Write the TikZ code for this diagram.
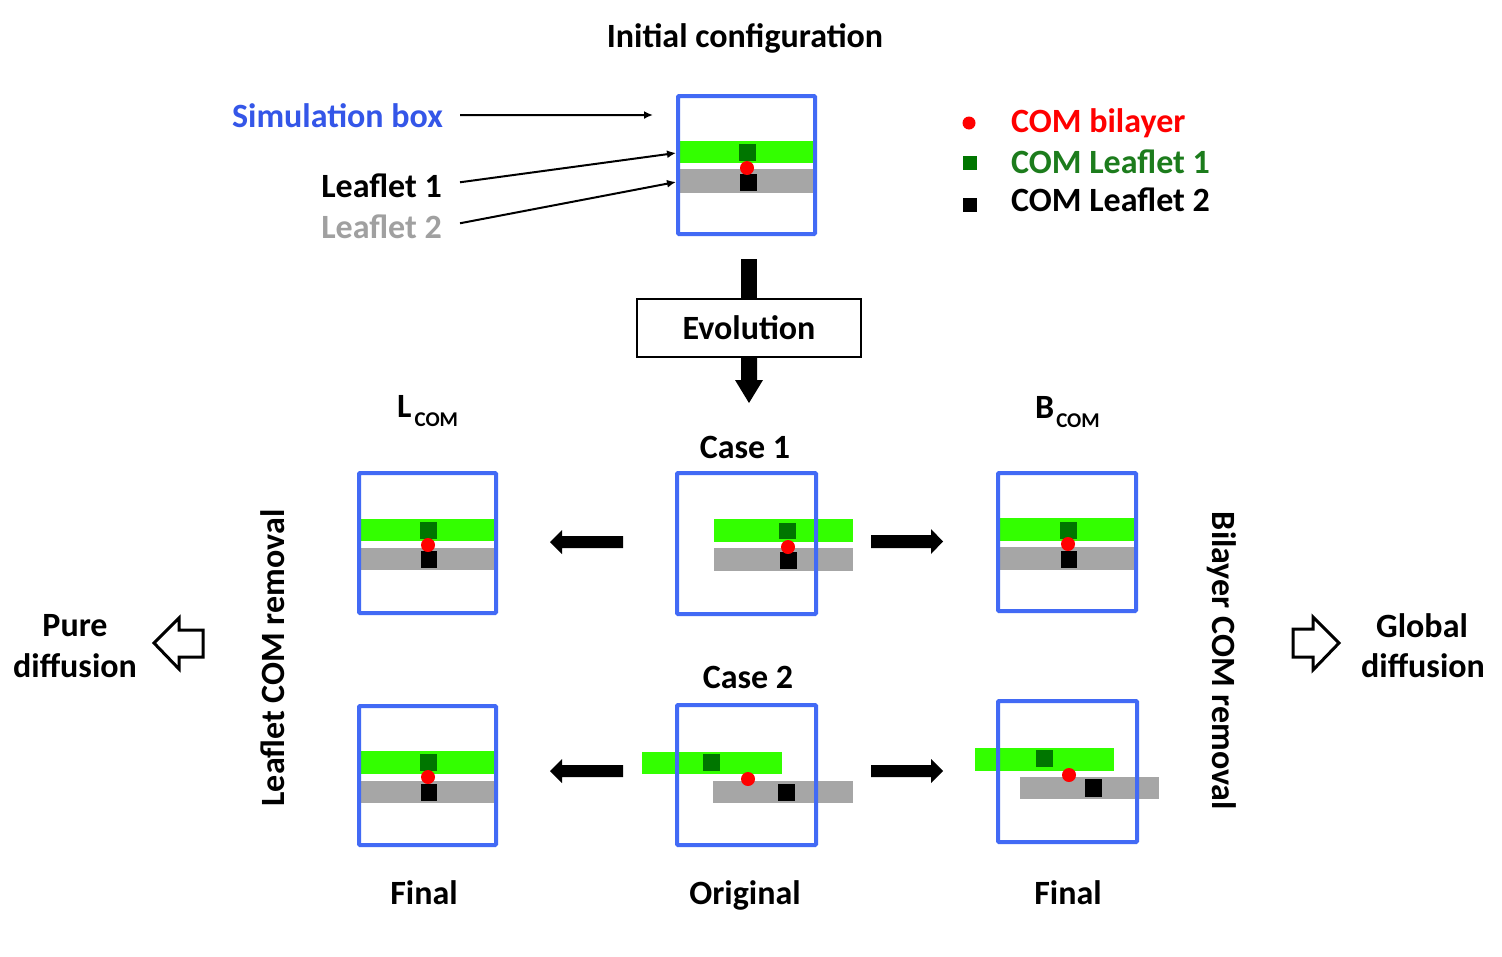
\documentclass[tikz,border=0pt]{standalone}
\usepackage{fontspec}
\setmainfont{Carlito}
\usetikzlibrary{arrows.meta}
\definecolor{boxblue}{RGB}{66,106,245}
\definecolor{txtblue}{RGB}{52,86,232}
\definecolor{bandgreen}{RGB}{51,255,0}
\definecolor{comgreen}{RGB}{0,118,0}
\definecolor{txtgreen}{RGB}{28,124,28}
\definecolor{bandgray}{RGB}{166,166,166}
\definecolor{txtgray}{RGB}{160,160,160}
\begin{document}
\begin{tikzpicture}[x=1pt,y=-1pt,
  font=\fontsize{34}{40}\selectfont\bfseries,
  simbox/.style={draw=boxblue, line width=4pt, rounded corners=1pt, minimum width=#1, inner sep=0pt},
  lbl/.style={inner sep=0pt},
  thinarrow/.style={line width=2pt, -{Latex[length=9pt,width=8pt]}},
  blockarrow/.style={fill=black},
  hollowarrow/.style={draw=black, fill=white, line width=3pt, line join=miter},
  l1/.style={fill=bandgreen},
  l2/.style={fill=bandgray},
  c1/.style={fill=comgreen},
  c2/.style={fill=black},
  cb/.style={fill=red}]
\fill[white] (0,0) rectangle (1502,956);
\useasboundingbox (0,0) rectangle (1502,956);

% ---------- top box (initial configuration)
\node[lbl, anchor=base] (title) at (745,47) {Initial configuration};
\fill[l1] (678,141) rectangle (815,163);
\fill[l2] (678,169) rectangle (815,193);
\fill[c1] (739,144) rectangle (756,161);
\fill[c2] (740,174) rectangle (757,191);
\fill[cb] (747,168) circle (7);
\node[simbox=137pt, minimum height=138pt] (b0) at (746.5,165) {};
\coordinate (t0) at (653,115);
\coordinate (t1) at (676,153);
\coordinate (t2) at (676,182);

\node[lbl, anchor=base east, text=txtblue] (simlbl) at (443,127) {Simulation box};
\node[lbl, anchor=base east] (lf1) at (442,197) {Leaflet 1};
\node[lbl, anchor=base east, text=txtgray] (lf2) at (442,238) {Leaflet 2};
\draw[thinarrow] ([xshift=17pt]simlbl.east) -- (t0);
\draw[thinarrow] ([xshift=18pt,yshift=3pt]lf1.east) -- (t1);
\draw[thinarrow] ([xshift=18pt,yshift=3pt]lf2.east) -- (t2);

% ---------- legend
\node[circle, fill=red, minimum size=13pt, inner sep=0pt] (lgb) at (969,123) {};
\node[fill=comgreen, minimum size=14pt, inner sep=0pt] (lg1) at (970,163) {};
\node[fill=black, minimum size=14pt, inner sep=0pt] (lg2) at (970,205) {};
\node[lbl, anchor=base west, text=red] (lgbt) at (1011,132) {COM bilayer};
\node[lbl, anchor=base west, text=txtgreen] (lg1t) at (1011,173) {COM Leaflet 1};
\node[lbl, anchor=base west] (lg2t) at (1011,211) {COM Leaflet 2};

% ---------- evolution
\node[draw, line width=1.5pt, minimum width=224pt, minimum height=58pt, inner sep=0pt] (evo) at (749,328) {Evolution};
\fill[blockarrow] (741,259) rectangle (757,299);
\fill[blockarrow] (741,357) -- (757,357) -- (757,380) -- (763,380) -- (749,403) -- (735,380) -- (741,380) -- cycle;

% ---------- headings
\node[lbl, anchor=base west] (lcom) at (397,417) {L\hspace{3pt}\raisebox{-9pt}{\fontsize{21}{21}\selectfont COM}};
\node[lbl, anchor=base west] (bcom) at (1035,418) {B\hspace{2pt}\raisebox{-9pt}{\fontsize{21}{21}\selectfont COM}};
\node[lbl, anchor=base] (case1) at (745,458) {Case 1};
\node[lbl, anchor=base] (case2) at (748,688) {Case 2};

% ---------- case 1, left (L_COM)
\fill[l1] (359,519) rectangle (496,541);
\fill[l2] (359,548) rectangle (496,570);
\fill[c1] (420,522) rectangle (437,539);
\fill[c2] (421,551) rectangle (437,568);
\fill[cb] (428,545) circle (7);
\node[simbox=137pt, minimum height=140pt] (bl1) at (427.5,543) {};

% ---------- case 1, centre (original)
\fill[l1] (714,519) rectangle (853,542);
\fill[l2] (714,548) rectangle (853,571);
\fill[c1] (779,523) rectangle (796,539);
\fill[c2] (780,552) rectangle (797,569);
\fill[cb] (788,547) circle (7);
\node[simbox=139pt, minimum height=141pt] (bc1) at (746.5,543.5) {};

% ---------- case 1, right (B_COM)
\fill[l1] (998,518) rectangle (1136,541);
\fill[l2] (998,547) rectangle (1136,570);
\fill[c1] (1060,522) rectangle (1077,539);
\fill[c2] (1061,551) rectangle (1077,568);
\fill[cb] (1068,544) circle (7);
\node[simbox=138pt, minimum height=138pt] (br1) at (1067,542) {};

% ---------- case 2, left
\fill[l1] (359,751) rectangle (496,774);
\fill[l2] (359,781) rectangle (496,803);
\fill[c1] (420,754) rectangle (437,771);
\fill[c2] (421,784) rectangle (437,801);
\fill[cb] (428,777) circle (7);
\node[simbox=137pt, minimum height=139pt] (bl2) at (427.5,775.5) {};

% ---------- case 2, centre
\fill[l1] (642,752) rectangle (782,774);
\fill[l2] (713,781) rectangle (853,803);
\fill[c1] (703,754) rectangle (720,771);
\fill[c2] (778,784) rectangle (795,801);
\fill[cb] (748,779) circle (7);
\node[simbox=139pt, minimum height=140pt] (bc2) at (746.5,775) {};

% ---------- case 2, right
\fill[l1] (975,748) rectangle (1114,771);
\fill[l2] (1020,777) rectangle (1159,799);
\fill[c1] (1036,750) rectangle (1053,767);
\fill[c2] (1085,779) rectangle (1102,797);
\fill[cb] (1069,775) circle (7);
\node[simbox=139pt, minimum height=141pt] (br2) at (1067.5,771.5) {};

% ---------- block arrows between boxes
\fill[blockarrow] (623,536) -- (562,536) -- (562,530) -- (550,542) -- (562,554) -- (562,548) -- (623,548) -- cycle;
\fill[blockarrow] (871,535) -- (931,535) -- (931,529) -- (943,541.5) -- (931,554) -- (931,548) -- (871,548) -- cycle;
\fill[blockarrow] (623,765) -- (562,765) -- (562,759) -- (550,771) -- (562,783) -- (562,777) -- (623,777) -- cycle;
\fill[blockarrow] (871,765) -- (931,765) -- (931,759) -- (943,771) -- (931,783) -- (931,777) -- (871,777) -- cycle;

% ---------- bottom labels
\node[lbl, anchor=base] (fin1) at (424,904) {Final};
\node[lbl, anchor=base] (orig) at (745,904) {Original};
\node[lbl, anchor=base] (fin2) at (1068,904) {Final};

% ---------- side labels
\node[lbl, anchor=base, rotate=90] (lrem) at (284,658) {Leaflet COM removal};
\node[lbl, anchor=base, rotate=-90] (brem) at (1212,661) {Bilayer COM removal};

\node[lbl, anchor=base] (pure) at (75,636) {Pure};
\node[lbl, anchor=base] (pdiff) at (75,677) {diffusion};
\node[lbl, anchor=base] (glob) at (1422,637) {Global};
\node[lbl, anchor=base] (gdiff) at (1423,677) {diffusion};

\draw[hollowarrow] (154,643) -- (179,618) -- (179,630) -- (203,630) -- (203,657) -- (179,657) -- (179,669) -- cycle;
\draw[hollowarrow] (1339,643) -- (1313,617) -- (1313,629) -- (1293,629) -- (1293,657) -- (1313,657) -- (1313,670) -- cycle;
\end{tikzpicture}
\end{document}
